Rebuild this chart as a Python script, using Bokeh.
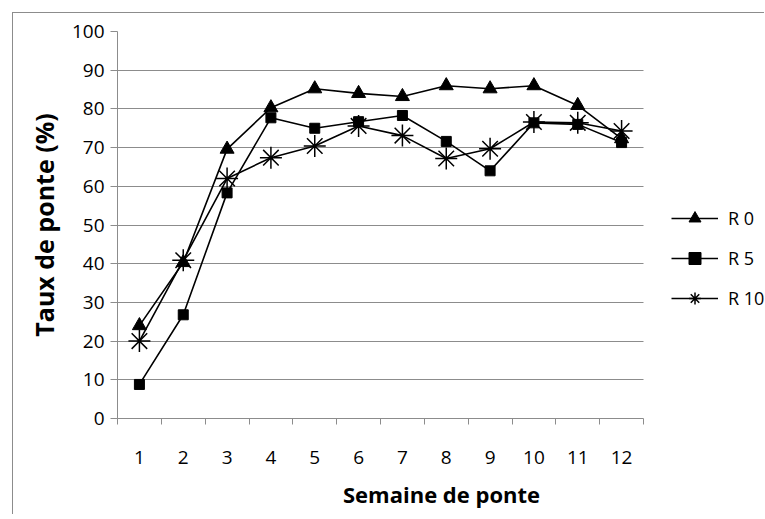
from bokeh.plotting import figure
from bokeh.models import (FixedTicker, LinearAxis, Legend, LegendItem, Range1d,
                          ColumnDataSource)
from bokeh.embed import file_html
from bokeh.resources import INLINE

weeks = [1, 2, 3, 4, 5, 6, 7, 8, 9, 10, 11, 12]
week_labels = [str(w) for w in weeks]
r0 = [24, 40.3, 69.6, 80.3, 85.2, 84, 83.2, 86, 85.2, 86, 80.9, 72.3]
r5 = [8.8, 26.8, 58.3, 77.7, 75, 76.7, 78.3, 71.6, 64, 76.4, 76, 71.3]
r10 = [20, 40.9, 62, 67.4, 70.4, 75.6, 73.1, 67.2, 69.7, 76.6, 76.4, 74.3]
series_names = ["R 0", "R 5", "R 10"]
y_ticks = [0, 10, 20, 30, 40, 50, 60, 70, 80, 90, 100]

FONT = "Open Sans"
GRID = "#8c8c8c"

W, H = 752, 502
LEFT, TOP, BOTTOM = 104, 18, 97
PLOT_W = 526  # width of the category area (0.5 .. 12.5)
x_end = 12.5 + (W - LEFT - PLOT_W) / (PLOT_W / 12.0)  # room on the right for the legend

src = ColumnDataSource(dict(x=weeks, r0=r0, r5=r5, r10=r10))

p = figure(width=W, height=H, output_backend="svg", toolbar_location=None,
           x_range=Range1d(0.5, x_end), y_range=Range1d(0, 100),
           x_axis_location=None, y_axis_location=None,
           min_border_left=LEFT, min_border_right=0,
           min_border_top=TOP, min_border_bottom=BOTTOM)
p.styles = {"position": "relative", "left": "12px", "top": "12px",
            "border-left": "1px solid #8c8c8c", "border-top": "1px solid #8c8c8c"}
p.outline_line_color = None
p.background_fill_color = "white"
p.border_fill_color = "white"

# y axis
ya = LinearAxis(ticker=FixedTicker(ticks=y_ticks))
ya.axis_line_color = GRID
ya.major_tick_line_color = GRID
ya.major_tick_out = 7
ya.major_tick_in = 0
ya.minor_tick_line_color = None
ya.major_label_standoff = 6
ya.major_label_text_font = FONT
ya.major_label_text_font_size = "19px"
ya.major_label_text_color = "black"
ya.axis_label = "Taux de ponte (%)"
ya.axis_label_text_font = FONT
ya.axis_label_text_font_style = "bold"
ya.axis_label_text_font_size = "25px"
ya.axis_label_text_color = "black"
ya.axis_label_standoff = 8
p.add_layout(ya, "left")

# x axis: labels at category centres, minor ticks at category boundaries
xa = LinearAxis(ticker=FixedTicker(ticks=weeks,
                                   minor_ticks=[w - 0.5 for w in weeks] + [weeks[-1] + 0.5]),
                major_label_overrides={w: l for w, l in zip(weeks, week_labels)},
                bounds=(0.5, 12.5))
xa.axis_line_color = GRID
xa.major_tick_line_color = None
xa.major_tick_out = 6
xa.major_tick_in = 0
xa.minor_tick_line_color = GRID
xa.minor_tick_out = 6
xa.minor_tick_in = 0
xa.major_label_standoff = 26
xa.major_label_text_font = FONT
xa.major_label_text_font_size = "19px"
xa.major_label_text_color = "black"
xa.axis_label = "Semaine de ponte"
xa.axis_label_text_font = FONT
xa.axis_label_text_font_style = "bold"
xa.axis_label_text_font_size = "22px"
xa.axis_label_text_color = "black"
xa.axis_label_standoff = 12
p.add_layout(xa, "below")

p.xgrid.visible = False
p.ygrid.ticker = FixedTicker(ticks=y_ticks)
p.ygrid.grid_line_color = GRID
p.ygrid.grid_line_width = 1
p.ygrid.cross_bounds = (0.5, 12.5)

l0 = p.line("x", "r0", source=src, line_color="black", line_width=1.6)
m0 = p.scatter("x", "r0", source=src, marker="triangle", size=14,
               fill_color="black", line_color="black")
l1 = p.line("x", "r5", source=src, line_color="black", line_width=1.6)
m1 = p.scatter("x", "r5", source=src, marker="square", size=10,
               fill_color="black", line_color="black")
l2 = p.line("x", "r10", source=src, line_color="black", line_width=1.6)
m2 = p.scatter("x", "r10", source=src, marker="asterisk", size=22,
               line_color="black", line_width=1.5)

legend = Legend(items=[LegendItem(label=series_names[0], renderers=[l0, m0]),
                       LegendItem(label=series_names[1], renderers=[l1, m1]),
                       LegendItem(label=series_names[2], renderers=[l2, m2])],
                location=(PLOT_W + 28, 105), orientation="vertical",
                glyph_width=47, glyph_height=30, spacing=10,
                label_standoff=10, padding=0, margin=0,
                label_text_font=FONT, label_text_font_size="18px",
                label_text_color="black",
                border_line_color=None, background_fill_alpha=0)
p.add_layout(legend, "center")

open("out.html", "w").write(file_html(p, INLINE))
